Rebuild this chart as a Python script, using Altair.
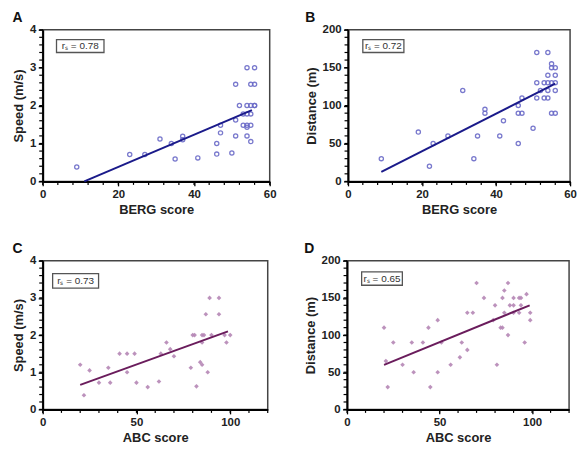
import altair as alt
import pandas as pd

# ---------------- data ----------------
berg_speed_x = [9, 23, 27, 31, 34, 35, 37, 37, 41, 46, 46, 47, 47, 50, 51, 51, 51, 52, 53, 53,
                54, 54, 54, 54, 54, 54, 55, 55, 55, 55, 55, 56, 56, 56, 56]
berg_speed_y = [0.38, 0.71, 0.71, 1.12, 1.0, 0.59, 1.19, 1.1, 0.62, 1.0, 0.72, 1.48, 1.28, 0.75, 2.56,
                1.62, 1.2, 2.0, 1.78, 1.48, 3.0, 2.0, 1.78, 1.48, 1.43, 1.2, 2.56, 2.0, 1.78, 1.48,
                1.05, 3.0, 2.56, 2.0, 2.0]

berg_dist_x = [9, 19, 22, 23, 27, 31, 34, 35, 37, 37, 41, 42, 46, 46, 46, 47, 47, 50, 51, 51,
               51, 52, 53, 53, 54, 54, 54, 54, 54, 55, 55, 55, 55, 56, 56, 56, 56, 56]
berg_dist_y = [30, 65, 20, 50, 60, 120, 30, 60, 95, 90, 60, 80, 100, 90, 50, 110, 90, 70, 170, 130,
               110, 120, 130, 110, 170, 140, 130, 120, 110, 155, 150, 130, 90, 150, 140, 130, 120, 90]

abc_speed_x = [20, 22, 25, 30, 35, 36, 41, 45, 45, 49, 50, 56, 62, 63, 66, 68, 70, 79, 80, 81,
               82, 84, 85, 85, 85, 86, 87, 88, 89, 90, 94, 94, 97, 98, 100]
abc_speed_y = [1.2, 0.38, 1.05, 0.72, 1.12, 0.72, 1.5, 1.5, 1.0, 1.5, 0.72, 0.6, 0.75, 1.5, 1.8,
               1.62, 1.43, 1.12, 2.0, 2.0, 0.62, 1.27, 1.2, 1.8, 2.0, 2.0, 2.56, 1.0, 3.0, 2.0,
               3.0, 2.56, 2.0, 1.8, 2.0]

abc_dist_x = [20, 21, 22, 25, 30, 35, 36, 41, 44, 45, 49, 49, 51, 56, 61, 62, 65, 65, 68, 70,
              74, 79, 80, 81, 83, 84, 84, 85, 85, 87, 87, 88, 90, 90, 90, 93, 93, 94, 94, 96,
              97, 99, 99]
abc_dist_y = [110, 65, 30, 90, 60, 90, 50, 90, 110, 30, 120, 50, 90, 60, 70, 90, 80, 130, 130, 170,
              150, 120, 140, 60, 110, 110, 150, 130, 160, 170, 100, 140, 150, 130, 140, 130, 150, 140, 150, 90,
              155, 130, 120]

# regression line end points
line_a_x = [11, 55.3]
line_a_y = [0, 1.88]
line_b_x = [9, 56]
line_b_y = [12.7, 129]
line_c_x = [20, 98.8]
line_c_y = [0.66, 2.10]
line_d_x = [20, 98.7]
line_d_y = [60, 140]

# tick labels
berg_ticks = [0, 20, 40, 60]
abc_ticks = [0, 50, 100]
speed_ticks = [0, 1, 2, 3, 4]
dist_ticks = [0, 50, 100, 150, 200]

panel_letters = ["A", "B", "C", "D"]
rs_labels = ["rₛ = 0.78", "rₛ = 0.72", "rₛ = 0.73", "rₛ = 0.65"]
x_titles = ["BERG score", "BERG score", "ABC score", "ABC score"]
y_titles = ["Speed (m/s)", "Distance (m)", "Speed (m/s)", "Distance (m)"]

FONT = "Liberation Sans"


def minor_values(vmax, step):
    n = int(round(vmax / step))
    return [round(i * step, 6) for i in range(n + 1)]


def panel(xs, ys, lx, ly, letter, rs, xt, yt, xmax, xticks, xminor, ymax, yticks, yminor,
          box, w, h, pt_color, line_color, filled):
    pts = pd.DataFrame({"x": xs, "y": ys})
    ln = pd.DataFrame({"x": lx, "y": ly})
    bx = pd.DataFrame({"x": [box[0]], "x2": [box[1]], "y": [box[2]], "y2": [box[3]],
                       "xc": [(box[0] + box[1]) / 2], "yc": [(box[2] + box[3]) / 2], "t": [rs]})
    mx = pd.DataFrame({"x": minor_values(xmax, xminor)})
    my = pd.DataFrame({"y": minor_values(ymax, yminor)})

    xsc = alt.Scale(domain=[0, xmax], nice=False, zero=True)
    ysc = alt.Scale(domain=[0, ymax], nice=False, zero=True)
    xax = alt.Axis(title=xt, values=xticks, tickSize=4.5, labelFlush=False, labelOverlap=False,
                   grid=False)
    yax = alt.Axis(title=yt, values=yticks, tickSize=4.5, labelFlush=False, labelOverlap=False,
                   grid=False)

    def X(field):
        return alt.X(field, type="quantitative", scale=xsc, axis=xax, title=xt)

    def Y(field):
        return alt.Y(field, type="quantitative", scale=ysc, axis=yax, title=yt)

    if filled:
        pmark = alt.Chart(pts).mark_point(shape="diamond", filled=True, size=22, color=pt_color, opacity=0.9)
    else:
        pmark = alt.Chart(pts).mark_point(shape="circle", filled=False, size=18, color=pt_color,
                                          strokeWidth=1.3, opacity=0.9)
    points = pmark.encode(x=X("x"), y=Y("y"))
    line = alt.Chart(ln).mark_line(color=line_color, strokeWidth=2).encode(x=X("x"), y=Y("y"))
    rect = alt.Chart(bx).mark_rect(fill="white", stroke="#555555", strokeWidth=1.3).encode(
        x=X("x"), x2="x2", y=Y("y"), y2="y2")
    text = alt.Chart(bx).mark_text(font=FONT, fontSize=10, color="#333333", align="center",
                                   baseline="middle").encode(x=X("xc"), y=Y("yc"), text="t:N")
    # minor ticks, placed through the scales just outside the axis lines
    xminor_marks = alt.Chart(mx).mark_rule(color="#000000", strokeWidth=1.2).encode(
        x=X("x"), y=alt.value(h), y2=alt.value(h + 3.5))
    yminor_marks = alt.Chart(my).mark_rule(color="#000000", strokeWidth=1.2).encode(
        y=Y("y"), x=alt.value(0), x2=alt.value(-3.5))
    return alt.layer(points, line, rect, text, xminor_marks, yminor_marks).properties(
        width=w, height=h,
        title=alt.TitleParams(letter, anchor="start", frame="bounds", fontSize=14,
                              fontWeight="bold", font=FONT, color="#111111", offset=-1),
    )


pa = panel(berg_speed_x, berg_speed_y, line_a_x, line_a_y, panel_letters[0], rs_labels[0],
           x_titles[0], y_titles[0], 60, berg_ticks, 4, 4, speed_ticks, 0.2, (3.65, 16.2, 3.40, 3.74),
           229, 153, "#6b6bc8", "#1a1a8a", False)
pb = panel(berg_dist_x, berg_dist_y, line_b_x, line_b_y, panel_letters[1], rs_labels[1],
           x_titles[1], y_titles[1], 60, berg_ticks, 4, 200, dist_ticks, 10, (4.0, 15.1, 170, 187),
           224, 153, "#6b6bc8", "#1a1a8a", False)
pc = panel(abc_speed_x, abc_speed_y, line_c_x, line_c_y, panel_letters[2], rs_labels[2],
           x_titles[2], y_titles[2], 120, abc_ticks, 10, 4, speed_ticks, 0.2, (5.3, 29.8, 3.26, 3.65),
           227, 150, "#b586b5", "#6a1c5c", True)
pd_ = panel(abc_dist_x, abc_dist_y, line_d_x, line_d_y, panel_letters[3], rs_labels[3],
            x_titles[3], y_titles[3], 120, abc_ticks, 10, 200, dist_ticks, 10, (7.9, 29.9, 167, 185),
            224, 150, "#b586b5", "#6a1c5c", True)

chart = alt.vconcat(
    alt.hconcat(pa, pb, spacing=27),
    alt.hconcat(pc, pd_, spacing=34),
    spacing=23,
).properties(
    padding={"left": 3, "top": 0, "right": 0, "bottom": 0},
    background="white",
).configure_view(
    stroke="#444444", strokeWidth=1.5,
).configure_axis(
    labelFont=FONT, labelFontSize=11.5, labelFontWeight="bold", labelColor="#222222",
    labelPadding=2.5, labelOverlap=False,
    titleFont=FONT, titleFontSize=13, titleFontWeight="bold", titleColor="#222222",
    titlePadding=4,
    domainColor="#000000", domainWidth=2, tickColor="#000000", tickWidth=1.3,
).configure_concat(spacing=20)

chart.save("out.html", embed_options={"renderer": "svg", "actions": False})
